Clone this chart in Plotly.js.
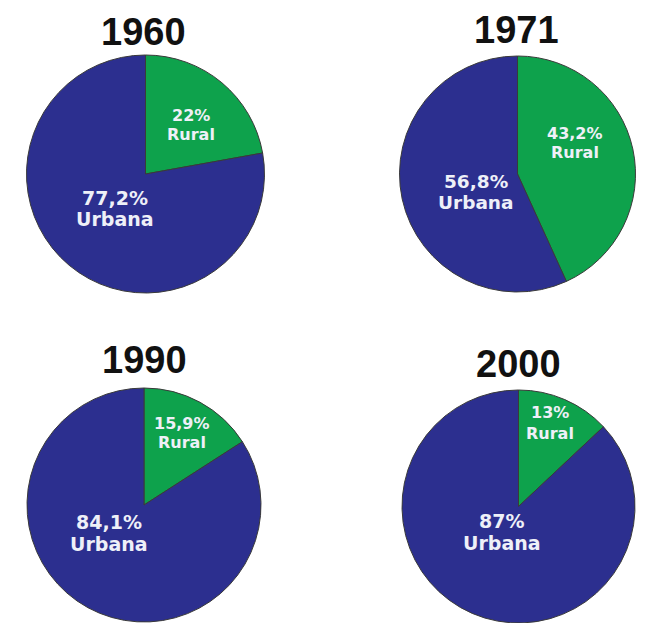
<!DOCTYPE html>
<html>
<head>
<meta charset="utf-8">
<script src="https://cdn.plot.ly/plotly-3.0.1.min.js"></script>
<style>html,body{margin:0;padding:0;background:#fff;}#chart{width:651px;height:623px;}</style>
</head>
<body>
<div id="chart"></div>
<script>
// Data
const years = ['1960', '1971', '1990', '2000'];
const categories = ['Rural', 'Urbana'];
const rural = [22, 43.2, 15.9, 13];
const urbana = [77.2, 56.8, 84.1, 87];
const ruralText = ['22%', '43,2%', '15,9%', '13%'];
const urbanaText = ['77,2%', '56,8%', '84,1%', '87%'];

// Layout / style (pixels in a 651x623 canvas)
const W = 651, H = 623;
const centers = [[145.5, 174, 119], [517.5, 174, 118], [144, 505, 117], [518.5, 507, 117]];
const titlePos = [[143.5, 31.5], [516.5, 30], [144, 360], [518.5, 363.5]];
// label block offsets from pie centre [dx, dy, lineGap]
const ruralLabelPos = [[45, -49, 19], [57.5, -31, 19.5], [38, -72, 19.5], [31.5, -84, 20]];
const urbanaLabelPos = [[-31, 34, 21], [-42, 18, 20.5], [-35, 28, 21.5], [-17, 25, 21.5]];
const urbanaFontSize = [19, 18.5, 19, 19];
const ruralFontSize = 16;
const colors = ['#0ea24c', '#2c2f8f'];
const labelColor = '#eef0f8';
const labelFamily = 'DejaVu Sans';

const traces = years.map((y, i) => {
  const [cx, cy, r] = centers[i];
  return {
    type: 'pie',
    labels: categories,
    values: [rural[i], urbana[i]],
    textinfo: 'none',
    hoverinfo: 'none',
    sort: false,
    direction: 'clockwise',
    rotation: 0,
    marker: {colors: colors, line: {color: '#3a3a3a', width: 1}},
    domain: {x: [(cx - r) / W, (cx + r) / W], y: [1 - (cy + r) / H, 1 - (cy - r) / H]},
    showlegend: false
  };
});

const annotations = [];
function addText(text, px, py, size, color, family) {
  annotations.push({
    text: text, x: px / W, y: 1 - py / H,
    xref: 'paper', yref: 'paper', xanchor: 'center', yanchor: 'middle',
    showarrow: false, borderpad: 0,
    font: {family: family, size: size, color: color, weight: 'bold'}
  });
}
years.forEach((y, i) => {
  const [cx, cy] = centers[i];
  addText(y, titlePos[i][0], titlePos[i][1], 38, '#111111', 'Liberation Sans');
  const [rdx, rdy, rg] = ruralLabelPos[i];
  addText(ruralText[i], cx + rdx, cy + rdy - rg / 2, ruralFontSize, labelColor, labelFamily);
  addText(categories[0], cx + rdx, cy + rdy + rg / 2, ruralFontSize, labelColor, labelFamily);
  const [udx, udy, ug] = urbanaLabelPos[i];
  addText(urbanaText[i], cx + udx, cy + udy - ug / 2, urbanaFontSize[i], labelColor, labelFamily);
  addText(categories[1], cx + udx, cy + udy + ug / 2, urbanaFontSize[i], labelColor, labelFamily);
});

Plotly.newPlot('chart', traces, {
  width: W, height: H,
  margin: {l: 0, r: 0, t: 0, b: 0},
  paper_bgcolor: '#ffffff',
  annotations: annotations,
  showlegend: false
}, {staticPlot: true});
</script>
</body>
</html>
